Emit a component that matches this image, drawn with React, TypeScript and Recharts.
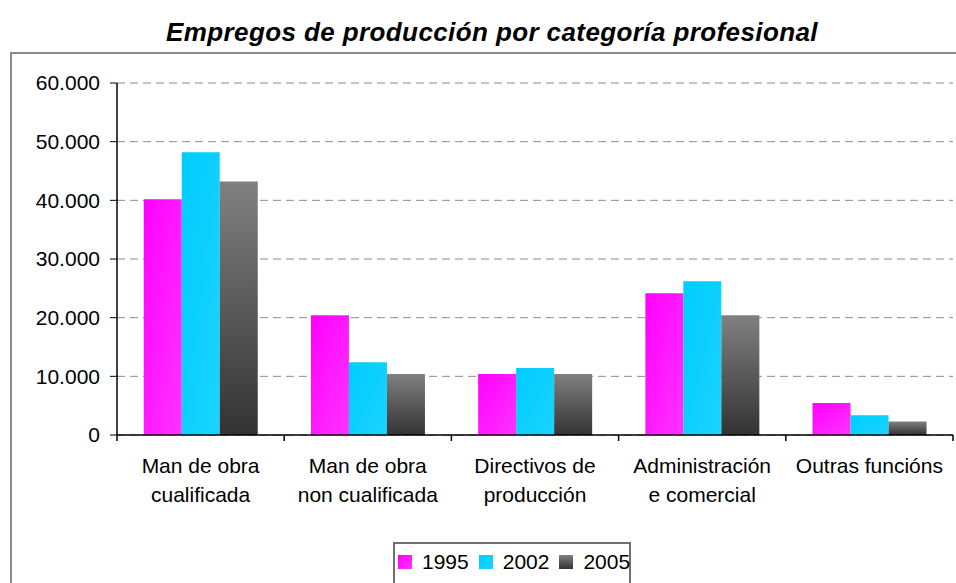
import React from "react";
import { BarChart, Bar, XAxis, YAxis, CartesianGrid, Legend } from "recharts";

const categories = [
  "Man de obra cualificada",
  "Man de obra non cualificada",
  "Directivos de producción",
  "Administración e comercial",
  "Outras funcións",
];
const categoryLines = [
  ["Man de obra", "cualificada"],
  ["Man de obra", "non cualificada"],
  ["Directivos de", "producción"],
  ["Administración", "e comercial"],
  ["Outras funcións"],
];
const series1995 = [40200, 20400, 10400, 24150, 5450];
const series2002 = [48200, 12400, 11400, 26200, 3350];
const series2005 = [43200, 10400, 10400, 20400, 2300];
const yTicks = [0, 10000, 20000, 30000, 40000, 50000, 60000];
const seriesNames = ["1995", "2002", "2005"];

const data = categories.map((c, i) => ({
  name: c,
  lines: categoryLines[i],
  y1995: series1995[i],
  y2002: series2002[i],
  y2005: series2005[i],
}));

const W = 956;
const H = 583;
const PLOT_LEFT = 117;
const PLOT_RIGHT = 953;
const PLOT_TOP = 83;
const PLOT_BOTTOM = 435;
const BAND = (PLOT_RIGHT - PLOT_LEFT) / categories.length;
const FONT = "'Liberation Sans', Arial, sans-serif";

const fmt = (v: number) => String(v).replace(/\B(?=(\d{3})+(?!\d))/g, ".");

function CategoryTick(props: any) {
  const { x, y, payload, index } = props;
  const lines: string[] = categoryLines[index] || [String(payload.value)];
  const last = index === categories.length - 1;
  return (
    <g>
      <line x1={x - BAND / 2} x2={x - BAND / 2} y1={y} y2={y + 6} stroke="#000" strokeWidth={1.5} />
      {last && (
        <line x1={x + BAND / 2} x2={x + BAND / 2} y1={y} y2={y + 6} stroke="#000" strokeWidth={1.5} />
      )}
      {lines.map((l, i) => (
        <text
          key={i}
          x={x}
          y={y + 38 + i * 29}
          textAnchor="middle"
          fill="#000"
          fontSize={21}
          fontFamily={FONT}
        >
          {l}
        </text>
      ))}
    </g>
  );
}

const swatches = [
  "linear-gradient(135deg, #FF00FF, #FF33FF)",
  "linear-gradient(135deg, #00CCFF, #1AD4FF)",
  "linear-gradient(180deg, #808080, #333333)",
];

function LegendBox() {
  return (
    <div
      style={{
        boxSizing: "border-box",
        width: 238,
        height: 52,
        border: "2px solid #707070",
        background: "#fff",
        display: "flex",
        alignItems: "flex-start",
        paddingTop: 8,
        paddingLeft: 3,
        fontFamily: FONT,
        fontSize: 21,
        color: "#000",
      }}
    >
      {seriesNames.map((n, i) => (
        <div key={n} style={{ display: "flex", alignItems: "center", height: 20, marginRight: 10 }}>
          <div style={{ width: 14, height: 14, background: swatches[i], marginRight: 10 }} />
          <span style={{ lineHeight: "20px" }}>{n}</span>
        </div>
      ))}
    </div>
  );
}

export default function App() {
  return (
    <div style={{ position: "absolute", left: 0, top: 0, width: W, height: H, overflow: "hidden", background: "#fff" }}>
      <div
        style={{
          position: "absolute",
          left: 10,
          top: 52,
          width: 970,
          height: 600,
          border: "2px solid #8a8a8a",
          boxSizing: "border-box",
        }}
      />
      <div
        style={{
          position: "absolute",
          left: 92,
          width: 800,
          top: 19,
          textAlign: "center",
          fontFamily: FONT,
          fontSize: 26,
          lineHeight: "26px",
          fontWeight: "bold",
          fontStyle: "italic",
          letterSpacing: 0.4,
          color: "#000",
          whiteSpace: "nowrap",
        }}
      >
        Empregos de producción por categoría profesional
      </div>
      <div style={{ position: "absolute", left: 0, top: 0 }}>
        <BarChart
          width={W}
          height={H}
          data={data}
          margin={{ top: PLOT_TOP, right: W - PLOT_RIGHT, bottom: 0, left: 10 }}
          barCategoryGap="16%"
          barGap={0}
        >
          <defs>
            <linearGradient id="g1995" x1="0" y1="0" x2="1" y2="1">
              <stop offset="0%" stopColor="#FF00FF" />
              <stop offset="100%" stopColor="#FF33FF" />
            </linearGradient>
            <linearGradient id="g2002" x1="0" y1="0" x2="1" y2="1">
              <stop offset="0%" stopColor="#00CCFF" />
              <stop offset="100%" stopColor="#1AD4FF" />
            </linearGradient>
            <linearGradient id="g2005" x1="0" y1="0" x2="0" y2="1">
              <stop offset="0%" stopColor="#808080" />
              <stop offset="100%" stopColor="#333333" />
            </linearGradient>
          </defs>
          <CartesianGrid vertical={false} stroke="#8c8c8c" strokeDasharray="8 5" />
          <XAxis
            dataKey="name"
            height={H - PLOT_BOTTOM}
            axisLine={{ stroke: "#000", strokeWidth: 1.5 }}
            tickLine={false}
            tickSize={0}
            tickMargin={0}
            interval={0}
            tick={<CategoryTick />}
          />
          <XAxis
            xAxisId="top"
            dataKey="name"
            orientation="top"
            height={0}
            tick={false}
            tickLine={false}
            axisLine={{ stroke: "#a0a0a0", strokeWidth: 2 }}
          />
          <YAxis
            width={PLOT_LEFT - 10}
            domain={[0, 60000]}
            ticks={yTicks}
            interval={0}
            tickFormatter={fmt}
            axisLine={{ stroke: "#000", strokeWidth: 1.5 }}
            tickLine={{ stroke: "#000", strokeWidth: 1 }}
            tickSize={7}
            tickMargin={10}
            tick={{ fill: "#000", fontSize: 21, fontFamily: FONT }}
          />
          <YAxis
            yAxisId="right"
            orientation="right"
            width={0}
            domain={[0, 60000]}
            tick={false}
            tickLine={false}
            axisLine={{ stroke: "#808080", strokeWidth: 2.5 }}
          />
          <Legend
            layout="horizontal"
            verticalAlign="middle"
            align="center"
            content={() => <LegendBox />}
            wrapperStyle={{ position: "absolute", left: 393, top: 542, width: 238, height: 52 }}
          />
          <Bar dataKey="y1995" name="1995" fill="url(#g1995)" isAnimationActive={false} />
          <Bar dataKey="y2002" name="2002" fill="url(#g2002)" isAnimationActive={false} />
          <Bar dataKey="y2005" name="2005" fill="url(#g2005)" isAnimationActive={false} />
        </BarChart>
      </div>
    </div>
  );
}
